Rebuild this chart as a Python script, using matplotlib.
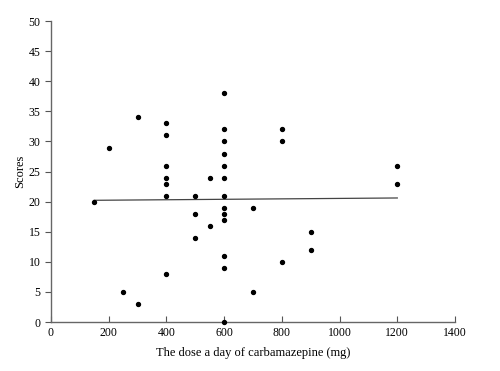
import numpy as np
import matplotlib
matplotlib.use("Agg")
import matplotlib.pyplot as plt

# dose (mg) and scores
dose = [150, 200, 250, 300, 300,
        400, 400, 400, 400, 400, 400, 400,
        500, 500, 500, 550, 550,
        600, 600, 600, 600, 600, 600, 600, 600, 600, 600, 600, 600, 600,
        700, 700, 800, 800, 800, 900, 900, 1200, 1200]
scores = [20, 29, 5, 3, 34,
          33, 31, 26, 24, 23, 21, 8,
          21, 18, 14, 24, 16,
          38, 32, 30, 28, 26, 24, 21, 19, 18, 17, 11, 9, 0,
          19, 5, 32, 30, 10, 15, 12, 26, 23]

x_ticks = [0, 200, 400, 600, 800, 1000, 1200, 1400]
y_ticks = [0, 5, 10, 15, 20, 25, 30, 35, 40, 45, 50]

plt.rcParams['font.family'] = ['Liberation Serif', 'DejaVu Serif']

fig = plt.figure(figsize=(5, 3.71), dpi=100)
ax = fig.add_axes([0.102, 0.132, 0.808, 0.811])

ax.scatter(dose, scores, s=8, color='black', zorder=3, clip_on=False)

# linear trend line over the data range
slope, icept = np.polyfit(dose, scores, 1)
xs = np.array([min(dose), max(dose)])
ax.plot(xs, slope * xs + icept, color='#444444', lw=0.9)

ax.set_xlim(0, 1400)
ax.set_ylim(0, 50)
ax.set_xticks(x_ticks)
ax.set_yticks(y_ticks)
ax.tick_params(axis='x', direction='in', length=4, labelsize=8.5, color='#555555')
ax.tick_params(axis='y', direction='out', length=4, labelsize=8.5, color='#555555')
for side in ['top', 'right']:
    ax.spines[side].set_visible(False)
for side in ['left', 'bottom']:
    ax.spines[side].set_color('#666666')
    ax.spines[side].set_linewidth(1.0)

ax.set_xlabel("The dose a day of carbamazepine (mg)", fontsize=9, labelpad=6)
ax.set_ylabel("Scores", fontsize=9, labelpad=2)

fig.savefig("out.png", dpi=100)
